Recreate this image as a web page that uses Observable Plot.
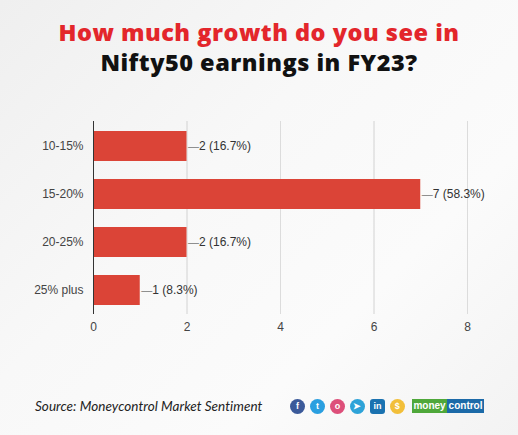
<!DOCTYPE html>
<html>
<head>
<meta charset="utf-8">
<script src="https://cdn.jsdelivr.net/npm/d3@7"></script>
<script src="https://cdn.jsdelivr.net/npm/@observablehq/plot@0.6"></script>
<style>
  body { margin: 0; }
  #page {
    position: relative; width: 518px; height: 435px; overflow: hidden;
    background: linear-gradient(135deg, #efefef 0%, #f8f8f8 40%, #fbfbfb 70%, #f3f3f3 100%);
    font-family: "Liberation Sans", Arial, sans-serif;
  }
  #title {
    position: absolute; top: 17px; left: 0; width: 518px; text-align: center;
    font-family: "Open Sans", sans-serif; font-weight: 800; font-size: 23.5px; line-height: 30px;
    letter-spacing: 0.5px;
  }
  #title .red { color: #e3262b; }
  #title .blk { color: #111; }
  #vis { position: absolute; top: 110px; left: 0; }
  #foot {
    position: absolute; top: 398px; left: 35px; width: 449px;
    display: flex; align-items: center;
  }
  #src { font-family: "Lato", sans-serif; font-style: italic; font-size: 13.5px; letter-spacing: 0.05px; color: #222; flex-shrink: 0; }
  .ic { width: 15px; height: 15px; flex-shrink: 0; border-radius: 50%; margin-left: 5px; color: #fff;
        font: bold 9px "Liberation Sans", sans-serif; display: flex; align-items: center; justify-content: center; }
  #logo { margin-left: 7px; flex-shrink: 0; display: flex; font: bold 10px "Liberation Sans", sans-serif; color: #fff; height: 14px; line-height: 14px; }
  #logo span { padding: 0 1.5px; }
</style>
</head>
<body>
<div id="page">
  <div id="title"><span class="red">How much growth do you see in</span><br><span class="blk">Nifty50 earnings in FY23?</span></div>
  <div id="vis"></div>
  <div id="foot">
    <span id="src">Source: Moneycontrol Market Sentiment</span>
    <span style="flex:1"></span>
    <span class="ic" style="background:#3b5a9a">f</span>
    <span class="ic" style="background:#2a9fe0">t</span>
    <span class="ic" style="background:#dd4f7a">o</span>
    <span class="ic" style="background:#2ea3d8">&#10148;</span>
    <span class="ic" style="background:#1a72b0;border-radius:3px">in</span>
    <span class="ic" style="background:#f2bf3a">$</span>
    <span id="logo"><span style="background:#4fa83a">money</span><span style="background:#1c6aa8">control</span></span>
  </div>
</div>
<script>
const categories = ["10-15%", "15-20%", "20-25%", "25% plus"]
const counts = [2, 7, 2, 1]
const shares = ["16.7%", "58.3%", "16.7%", "8.3%"]
const xTicks = [0, 2, 4, 6, 8]

const data = categories.map((c, i) => ({cat: c, value: counts[i], label: `${counts[i]} (${shares[i]})`}))

let chart = Plot.plot({
  width: 518,
  height: 234,
  marginLeft: 93,
  marginRight: 51,
  marginTop: 11,
  marginBottom: 30,
  x: {domain: [0, 8], ticks: xTicks, tickSize: 0, tickPadding: 8, label: null, grid: true},
  y: {domain: categories, label: null, tickSize: 0, tickPadding: 10, paddingInner: 0.38, paddingOuter: 0.2},
  style: {
    fontSize: 12,
    fontFamily: "Liberation Sans, Arial, sans-serif",
    color: "#444",
    background: "transparent",
    overflow: "visible",
  },
  marks: [
    Plot.gridX(xTicks.slice(1), {stroke: "#dcdcdc", strokeOpacity: 1}),
    Plot.barX(data, {x: "value", y: "cat", fill: "#db4437"}),
    Plot.ruleX([0], {stroke: "#333", strokeWidth: 1}),
    Plot.text(data, {x: "value", y: "cat", text: () => "—", dx: 1, textAnchor: "start", fill: "#777", fontSize: 11}),
    Plot.text(data, {x: "value", y: "cat", text: "label", dx: 12, textAnchor: "start", fill: "#333", fontSize: 12}),
  ],
})
d3.select('#vis').append(() => chart)
</script>
</body>
</html>
